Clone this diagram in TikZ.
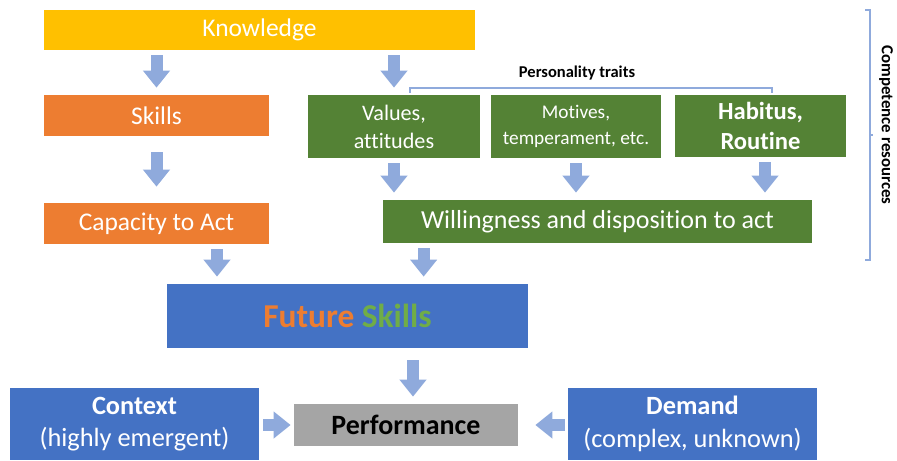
\documentclass[tikz,border=0pt]{standalone}
\usepackage{fontspec}
\setmainfont{Carlito}[Ligatures=NoCommon]
\usepackage{tikz}
\usetikzlibrary{arrows.meta,calc}

\definecolor{kyellow}{HTML}{FFC000}
\definecolor{korange}{HTML}{ED7D31}
\definecolor{kgreen}{HTML}{548235}
\definecolor{klgreen}{HTML}{70AD47}
\definecolor{kblue}{HTML}{4472C4}
\definecolor{kgrey}{HTML}{A5A5A5}
\definecolor{karrow}{HTML}{8FAADC}

\begin{document}
\begin{tikzpicture}[
    box/.style={fill=#1,text=white,align=center,inner sep=0pt},
    flow/.style={karrow,line width=0.24cm,-{Triangle[length=0.34cm,width=0.52cm]},
                 shorten <=0.1cm,shorten >=0.14cm},
    brace/.style={karrow,line width=0.6pt}
  ]
  \useasboundingbox (0,0) rectangle (17.94,-9.2);
  % first row
  \node[box=kyellow,minimum width=8.62cm,minimum height=0.8cm,font=\fontsize{14.5}{16}\selectfont]
    (know) at (5.19,-0.6) {Knowledge};
  % left column
  \node[box=korange,minimum width=4.5cm,minimum height=0.82cm,font=\fontsize{14.5}{16}\selectfont]
    (skills) at (3.13,-2.31) {Skills};
  \node[box=korange,minimum width=4.5cm,minimum height=0.82cm,font=\fontsize{14.5}{16}\selectfont]
    (capacity) at (3.13,-4.47) {Capacity to Act};
  % personality traits
  \node[box=kgreen,minimum width=3.44cm,minimum height=1.26cm,font=\fontsize{12.6}{16}\selectfont]
    (values) at (7.88,-2.53) {Values,\\attitudes};
  \node[box=kgreen,minimum width=3.4cm,minimum height=1.26cm,font=\fontsize{11}{15}\selectfont]
    (motives) at (11.52,-2.53) {Motives,\\temperament, etc.};
  \node[box=kgreen,minimum width=3.42cm,minimum height=1.24cm,font=\bfseries\fontsize{14}{17}\selectfont]
    (habitus) at (15.21,-2.52) {Habitus,\\Routine};
  \node[box=kgreen,minimum width=8.58cm,minimum height=0.86cm,font=\fontsize{14.8}{16}\selectfont]
    (willing) at (11.95,-4.43) {Willingness and disposition to act};
  % future skills
  \node[box=kblue,minimum width=7.22cm,minimum height=1.28cm,font=\bfseries\fontsize{19}{21}\selectfont]
    (future) at (6.95,-6.32) {\textcolor{korange}{Future} \textcolor{klgreen}{Skills}};
  % bottom row
  \node[box=kblue,minimum width=4.98cm,minimum height=1.44cm,font=\fontsize{15}{18.5}\selectfont]
    (context) at (2.69,-8.48) {\textbf{Context}\\(highly emergent)};
  \node[box=kgrey,text=black,minimum width=4.48cm,minimum height=0.84cm,font=\bfseries\fontsize{15.9}{17}\selectfont]
    (perf) at (8.12,-8.5) {Performance};
  \node[box=kblue,minimum width=4.98cm,minimum height=1.44cm,font=\fontsize{15}{18.5}\selectfont]
    (demand) at (13.85,-8.48) {\textbf{Demand}\\(complex, unknown)};
  % arrows
  \draw[flow] (know.south -| skills.north) -- (skills.north);
  \draw[flow] (know.south -| values.north) -- (values.north);
  \draw[flow,shorten <=0.32cm,shorten >=0.32cm] (skills.south) -- (capacity.north);
  \draw[flow] (values.south) -- (values.south |- willing.north);
  \draw[flow] (motives.south) -- (motives.south |- willing.north);
  \draw[flow] ([xshift=0.09cm]habitus.south) -- ([xshift=0.09cm]habitus.south |- willing.north);
  \draw[flow] ([xshift=1.21cm]capacity.south) -- ([xshift=1.21cm]capacity.south |- future.north);
  \draw[flow] ([xshift=0.82cm]willing.south west) -- ([xshift=0.82cm]willing.south west |- future.north);
  \draw[flow,shorten <=0.24cm] ([xshift=0.14cm]perf.north |- future.south) -- ([xshift=0.14cm]perf.north);
  \draw[flow,shorten <=0.08cm,shorten >=0.06cm] (context.east |- perf.west) -- (perf.west);
  \draw[flow,shorten <=0.06cm,shorten >=0.34cm] (demand.west |- perf.east) -- (perf.east);
  % braces
  \draw[brace] (8.2,-1.86) -- (8.2,-1.76) -- (15.44,-1.76) -- (15.44,-1.86);
  \node[font=\bfseries\fontsize{9.4}{11}\selectfont] (ptraits) at (11.54,-1.46) {Personality traits};
  \draw[brace] (17.3,-0.2) -- (17.4,-0.2) -- (17.4,-5.2) -- (17.3,-5.2);
  \draw[brace] (17.4,-2.7) -- (17.45,-2.7);
  \node[font=\bfseries\fontsize{9.6}{11}\selectfont,rotate=-90] (cres) at (17.72,-2.5) {Competence resources};
\end{tikzpicture}
\end{document}
